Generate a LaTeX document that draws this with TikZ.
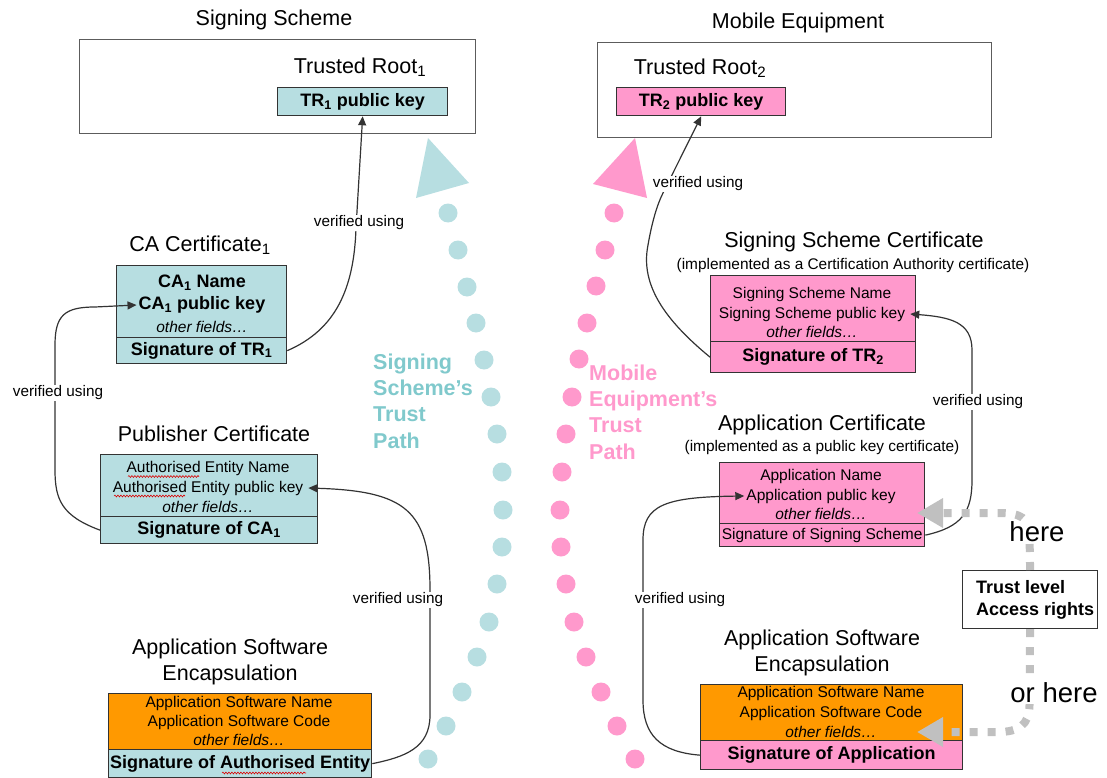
\documentclass[tikz,border=0pt]{standalone}
\usepackage{fontspec}
\setmainfont{Liberation Sans}
\usetikzlibrary{arrows.meta,decorations.pathmorphing}
\definecolor{tealfill}{RGB}{183,222,225}
\definecolor{tealtext}{RGB}{128,201,204}
\definecolor{pinkfill}{RGB}{255,153,204}
\definecolor{orangefill}{RGB}{255,153,0}
\definecolor{hintgray}{RGB}{192,192,192}
\definecolor{edge}{RGB}{51,51,51}
\newcommand\fsz[2]{\fontsize{#1}{#2}\selectfont}

\begin{document}
\begin{tikzpicture}[x=1pt,y=-1pt,
  heading/.style={font=\fsz{21.5}{25.5}, align=center, inner sep=0pt},
  remark/.style={font=\fsz{15.4}{18}, inner sep=0pt},
  frame/.style={draw=edge!80, line width=1.3pt, anchor=north west, inner sep=0pt},
  part/.style={draw=edge, line width=1.3pt, anchor=north west, inner sep=0pt},
  keyb/.style={font=\bfseries\fsz{18}{21}, inner sep=2pt},
  keyr/.style={font=\fsz{15.5}{18}, inner sep=2pt},
  other/.style={font=\itshape\fsz{15.5}{18}, inner sep=2pt},
  conn/.style={draw=edge, line width=1.2pt, -{Triangle[length=9pt,width=8pt]}},
  lbl/.style={font=\fsz{15.3}{18}, fill=white, inner sep=1pt},
  pathtext/.style={font=\bfseries\fsz{21.5}{26.3}, align=left, anchor=west, inner sep=0pt},
  tdot/.style={fill=tealfill},
  pdot/.style={fill=pinkfill},
  hint/.style={draw=hintgray, line width=8pt, dash pattern=on 8pt off 10pt,
    -{Triangle[length=26pt,width=28pt,fill=hintgray]}},
  big/.style={font=\fsz{27.5}{30}, fill=white, inner sep=1pt},
  squiggle/.style={draw=red!85!black, line width=0.6pt,
    decorate, decoration={snake, amplitude=0.9pt, segment length=3pt}}
]
\useasboundingbox (0,0) rectangle (1107,778);

% ---------- trust path markers ----------
\fill[tealfill] (428,138) -- (469,183) -- (416,198) -- cycle;
\foreach \p in {(448,213),(458,250),(467,287),(476,323),(484,360),(491,397),(497,434),
                (502,472),(503,510),(502,547),(497,584),(489,622),(477,657),(462,692),
                (446,726),(428,759)}
  \fill[tdot] \p circle (9.5);
\fill[pinkfill] (635,138) -- (647,198) -- (593,184) -- cycle;
\foreach \p in {(614,213),(605,250),(596,286),(587,323),(579,359),(572,397),(566,434),
                (562,472),(560,510),(561,547),(566,584),(574,622),(586,657),(601,692),
                (617,726),(635,759)}
  \fill[pdot] \p circle (9.5);

\node[pathtext, text=tealtext] (sstp) at (373,401) {Signing\\Scheme’s\\Trust\\Path};
\node[pathtext, text=pinkfill] (metp) at (589,412) {Mobile\\Equipment’s\\Trust\\Path};

% ---------- roots ----------
\node[heading] (sstitle) at (274,20) {Signing Scheme};
\node[frame, minimum width=396, minimum height=94] (ss) at (79,39) {};
\node[heading] (tr1title) at (360,67) {Trusted Root\textsubscript{1}};
\node[part, fill=tealfill, minimum width=170, minimum height=28, font=\bfseries\fsz{18}{21}] (tr1) at (277,87) {TR\textsubscript{1} public key};

\node[heading] (metitle) at (798,23) {Mobile Equipment};
\node[frame, minimum width=394, minimum height=95] (me) at (597,42) {};
\node[heading] (tr2title) at (700,68) {Trusted Root\textsubscript{2}};
\node[part, fill=pinkfill, minimum width=169, minimum height=28, font=\bfseries\fsz{18}{21}] (tr2) at (616,87) {TR\textsubscript{2} public key};

% ---------- CA certificate ----------
\node[heading] (catitle) at (200,245) {CA Certificate\textsubscript{1}};
\node[part, fill=tealfill, minimum width=170, minimum height=72] (catop) at (116,265) {};
\node[part, fill=tealfill, minimum width=170, minimum height=26, font=\bfseries\fsz{18}{21}] (casig) at (116,337) {Signature of TR\textsubscript{1}};
\node[keyb] (caname) at (202,283) {CA\textsubscript{1} Name};
\node[keyb] (capk) at (202,305) {CA\textsubscript{1} public key};
\node[other] (caother) at (202,327) {other fields…};

% ---------- publisher certificate ----------
\node[heading] (pubtitle) at (214,434) {Publisher Certificate};
\node[part, fill=tealfill, minimum width=217, minimum height=62] (pubtop) at (100,454) {};
\node[part, fill=tealfill, minimum width=217, minimum height=27, font=\bfseries\fsz{18}{21}] (pubsig) at (100,516) {Signature of CA\textsubscript{1}};
\node[keyr] (pubname) at (208,468) {Authorised Entity Name};
\node[keyr] (pubpk) at (208,488) {Authorised Entity public key};
\node[other] (pubother) at (208,507) {other fields…};
\path[squiggle] (128,476.5) -- (199,476.5);
\path[squiggle] (114,496) -- (185,496);

% ---------- application software (left) ----------
\node[heading] (lswtitle) at (230,662) {Application Software\\Encapsulation};
\node[part, fill=orangefill, minimum width=263, minimum height=56] (lswtop) at (108,693) {};
\node[part, fill=tealfill, minimum width=263, minimum height=28, font=\bfseries\fsz{18}{21}] (lswsig) at (108,749) {Signature of Authorised Entity};
\node[keyr] (lswname) at (239,703) {Application Software Name};
\node[keyr] (lswcode) at (239,722) {Application Software Code};
\node[other] (lswother) at (239,740) {other fields…};
\path[squiggle] (222,773) -- (306,773);

% ---------- signing scheme certificate ----------
\node[heading] (ssctitle) at (854,242) {Signing Scheme Certificate};
\node[remark] (sscnote) at (853,266) {(implemented as a Certification Authority certificate)};
\node[part, fill=pinkfill, minimum width=205, minimum height=66] (ssctop) at (710,275) {};
\node[part, fill=pinkfill, minimum width=205, minimum height=31, font=\bfseries\fsz{18}{21}] (sscsig) at (710,341) {Signature of TR\textsubscript{2}};
\node[keyr] (sscname) at (812,294) {Signing Scheme Name};
\node[keyr] (sscpk) at (812,314) {Signing Scheme public key};
\node[other] (sscother) at (812,332) {other fields…};

% ---------- application certificate ----------
\node[heading] (actitle) at (822,425) {Application Certificate};
\node[remark] (acnote) at (822,448) {(implemented as a public key certificate)};
\node[part, fill=pinkfill, minimum width=205, minimum height=61] (actop) at (719,462) {};
\node[part, fill=pinkfill, minimum width=205, minimum height=23, font=\fsz{15.5}{18}] (acsig) at (719,523) {Signature of Signing Scheme};
\node[keyr] (acname) at (821,476) {Application Name};
\node[keyr] (acpk) at (821,496) {Application public key};
\node[other] (acother) at (821,514) {other fields…};

% ---------- application software (right) ----------
\node[heading] (rswtitle) at (822,653) {Application Software\\Encapsulation};
\node[part, fill=orangefill, minimum width=262, minimum height=56] (rswtop) at (700,684) {};
\node[part, fill=pinkfill, minimum width=262, minimum height=29, font=\bfseries\fsz{18}{21}] (rswsig) at (700,740) {Signature of Application};
\node[keyr] (rswname) at (831,693) {Application Software Name};
\node[keyr] (rswcode) at (831,713) {Application Software Code};
\node[other] (rswother) at (831,732) {other fields…};

% ---------- trust level box ----------
\node[part, fill=white, minimum width=135, minimum height=58, line width=1.2pt] (tl) at (962,570) {};
\node[font=\bfseries\fsz{18}{22}, align=left, anchor=west, inner sep=0pt] (tltext) at (976,600) {Trust level\\Access rights};

% ---------- verification links ----------
\draw[conn] (casig.east) .. controls (335,330) and (354,290) .. (356,228) -- (tr1.south);
\node[lbl] (v1) at (359,223) {verified using};

\draw[conn] (pubsig.west) .. controls (62,516) and (55,500) .. (55,470)
  -- (55,345) .. controls (55,315) and (65,307) .. (95,307) -- (capk.west);
\node[lbl] (v2) at (58,393) {verified using};

\draw[conn] (lswsig.east) .. controls (405,757) and (430,748) .. (430,715)
  -- (430,590) .. controls (430,510) and (405,491) .. ([xshift=3pt]pubpk.east);
\node[lbl] (v3) at (398,600) {verified using};

\draw[conn] (sscsig.west) .. controls (665,320) and (640,285) .. (648,245)
  .. controls (652,222) and (657,205) .. (663,193) -- (tr2.south);
\node[lbl] (v4) at (698,184) {verified using};

\draw[conn] (acsig.east) .. controls (962,527) and (972,512) .. (972,480)
  -- (972,350) .. controls (972,322) and (950,317) .. ([xshift=3pt]sscpk.east);
\node[lbl] (v5) at (978,402) {verified using};

\draw[conn] (rswsig.west) .. controls (660,752) and (643,735) .. (643,700)
  -- (643,540) .. controls (643,505) and (665,497) .. (acpk.west);
\node[lbl] (v6) at (680,600) {verified using};

% ---------- where trust level and access rights are attached ----------
\coordinate (uptip) at (917,513);
\coordinate (lowtip) at (917,732);
\draw[hint] (tl.north) -- (1029.5,535) .. controls (1029.5,518) and (1020,513) .. (1000,513) -- (uptip);
\draw[hint] (tl.south) -- (1029.5,705) .. controls (1029.5,725) and (1018,732) .. (998,732) -- (lowtip);
\node[big] (here1) at (1037,532) {here};
\node[big] (here2) at (1054,693) {or here};

\end{tikzpicture}
\end{document}
